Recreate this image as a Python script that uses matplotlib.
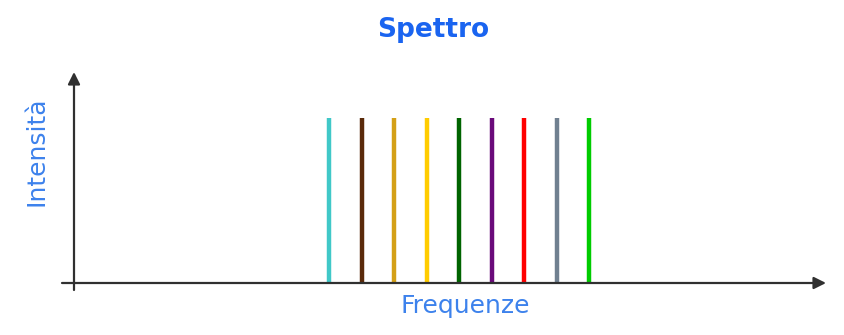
import numpy as np
import matplotlib.pyplot as plt

# spectrum lines (arbitrary frequency units, equal intensity)
freqs = [1, 2, 3, 4, 5, 6, 7, 8, 9]
intens = [1, 1, 1, 1, 1, 1, 1, 1, 1]
colors = ['#40c8c8', '#5a2a0a', '#d4a017', '#ffcc00', '#006400',
          '#6a0a7a', '#ff0000', '#708090', '#00cc00']

W, H = 844, 335
fig = plt.figure(figsize=(W / 100, H / 100), dpi=100)
ax = fig.add_axes([0, 0, 1, 1])
ax.axis('off')

# pixel mapping: f=1 at x=329, 32.5 px per unit; I=0 at y=52 (from bottom), 165 px per unit
x0, dx = 296.5, 32.5
y0, dy = 52, 165
ax.set_xlim((0 - x0) / dx, (W - x0) / dx)
ax.set_ylim((0 - y0) / dy, (H - y0) / dy)

ax.vlines(freqs, 0, intens, colors=colors, lw=3.2, zorder=2)


def fpx(x, y):
    return (x / W, y / H)


arrow = dict(arrowstyle='-|>', lw=1.6, color='#303030', mutation_scale=18,
             shrinkA=0, shrinkB=0)
ax.annotate('', xy=fpx(826, 52), xytext=fpx(62, 52),
            xycoords='figure fraction', arrowprops=arrow, zorder=3)
ax.annotate('', xy=fpx(74, 263), xytext=fpx(74, 45),
            xycoords='figure fraction', arrowprops=arrow, zorder=3)

fig.text(433 / W, 305 / H, 'Spettro', color='#1a64f0', fontsize=19,
         fontweight='bold', ha='center', va='center')
fig.text(465 / W, 29 / H, 'Frequenze', color='#3d82ec', fontsize=18,
         ha='center', va='center')
fig.text(37 / W, 184 / H, 'Intensità', color='#3d82ec', fontsize=18,
         rotation=90, ha='center', va='center')

fig.savefig('out.png', dpi=100)
